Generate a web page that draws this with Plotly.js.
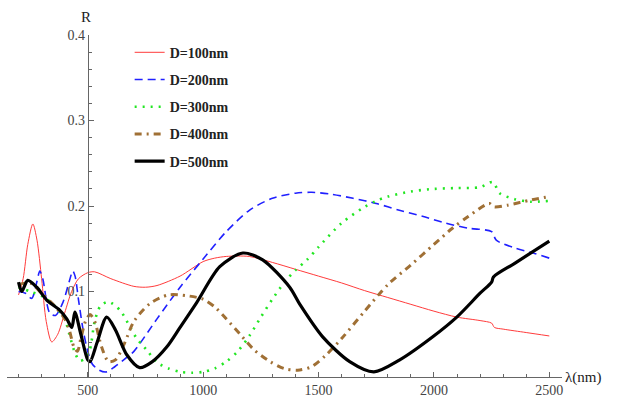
<!DOCTYPE html>
<html><head><meta charset="utf-8">
<script src="https://cdn.plot.ly/plotly-3.0.1.min.js"></script>
<style>html,body{margin:0;padding:0;background:#fff}#chart{width:617px;height:403px}</style>
</head><body><div id="chart"></div>
<script>
// D=100nm
const lam100 = [200,220,240,262,280,300,320,344,370,400,430,460,500,530,600,700,750,800,900,1000,1050,1100,1200,1300,1400,1500,1600,1700,1800,1900,2000,2100,2200,2250,2262,2300,2400,2500];
const r100   = [0.096,0.115,0.155,0.179,0.160,0.115,0.065,0.041,0.050,0.075,0.100,0.115,0.122,0.123,0.115,0.106,0.105,0.107,0.118,0.135,0.139,0.141,0.141,0.134,0.126,0.118,0.110,0.101,0.093,0.085,0.077,0.070,0.066,0.063,0.058,0.056,0.052,0.048];
// D=200nm
const lam200 = [200,230,257,280,292,305,335,360,392,420,435,445,460,480,500,520,550,580,617,669,700,800,900,1000,1100,1200,1300,1400,1470,1550,1650,1750,1850,1950,2050,2150,2250,2270,2350,2430,2500];
const r200   = [0.100,0.098,0.092,0.112,0.124,0.115,0.075,0.072,0.087,0.112,0.124,0.118,0.090,0.055,0.030,0.015,0.008,0.006,0.012,0.023,0.030,0.068,0.105,0.138,0.170,0.195,0.209,0.215,0.216,0.214,0.209,0.203,0.195,0.188,0.180,0.174,0.170,0.160,0.151,0.145,0.139];
// D=300nm
const lam300 = [200,250,300,350,400,420,445,465,490,510,530,555,590,640,680,710,760,800,850,900,950,1000,1050,1100,1150,1200,1250,1300,1350,1400,1450,1500,1600,1700,1750,1800,1900,2000,2100,2200,2255,2285,2350,2420,2500];
const r300   = [0.105,0.100,0.095,0.085,0.068,0.050,0.028,0.019,0.022,0.033,0.065,0.083,0.088,0.078,0.060,0.046,0.030,0.017,0.010,0.006,0.005,0.006,0.010,0.018,0.030,0.048,0.070,0.091,0.110,0.125,0.137,0.152,0.180,0.199,0.206,0.211,0.217,0.220,0.221,0.222,0.228,0.215,0.208,0.205,0.206];
// D=400nm
const lam400 = [200,250,300,350,400,420,440,455,470,490,510,530,560,590,620,660,700,770,850,930,1000,1050,1100,1160,1220,1290,1350,1410,1470,1530,1600,1700,1800,1900,2000,2080,2150,2240,2260,2320,2420,2500];
const r400   = [0.108,0.110,0.098,0.085,0.068,0.055,0.035,0.030,0.045,0.065,0.073,0.065,0.035,0.018,0.020,0.040,0.065,0.086,0.096,0.095,0.091,0.082,0.068,0.050,0.032,0.018,0.010,0.008,0.012,0.025,0.045,0.077,0.108,0.131,0.155,0.174,0.188,0.203,0.199,0.201,0.207,0.211];
// D=500nm
const lam500 = [200,214,240,279,322,379,409,431,444,470,500,510,540,582,620,669,725,780,842,900,972,1072,1172,1258,1375,1419,1518,1635,1740,1852,1995,2099,2200,2250,2258,2350,2500];
const r500   = [0.111,0.100,0.113,0.105,0.090,0.078,0.068,0.058,0.076,0.050,0.020,0.018,0.040,0.070,0.055,0.026,0.011,0.018,0.035,0.058,0.087,0.129,0.145,0.137,0.105,0.085,0.047,0.018,0.006,0.020,0.047,0.070,0.098,0.111,0.117,0.133,0.159];
const names = ["D=100nm","D=200nm","D=300nm","D=400nm","D=500nm"];
const xTicks = [500,1000,1500,2000,2500];
const yTicks = [0.1,0.2,0.3,0.4];

const serif = "Liberation Serif, Times New Roman, serif";
const styles = [
  {color:"#ff3b3b", width:1, dash:"solid"},
  {color:"#2020ff", width:1.6, dash:"8px,5px"},
  {color:"#22e622", width:2.6, dash:"2px,6px"},
  {color:"#a07035", width:3, dash:"7px,5px,2px,5px"},
  {color:"#000000", width:3.2, dash:"solid"}
];
const xs = [lam100,lam200,lam300,lam400,lam500];
const ys = [r100,r200,r300,r400,r500];
const traces = xs.map((x,i)=>({
  x:x, y:ys[i], name:names[i], type:"scatter", mode:"lines",
  legendgroup:"g"+i,
  line:Object.assign({shape:"spline", smoothing:0.8}, styles[i])
}));
const axisCol = "#666";
const layout = {
  width:617, height:403,
  margin:{l:7, r:55, t:35, b:26},
  paper_bgcolor:"#fff", plot_bgcolor:"#fff",
  showlegend:true,
  legend:{x:0.221, y:0.995, xanchor:"left", yanchor:"top", bgcolor:"rgba(0,0,0,0)",
          tracegroupgap:6, font:{family:serif, size:14, color:"#222", weight:"bold"}},
  xaxis:{range:[150,2555], showgrid:false, zeroline:false, showline:true, linecolor:axisCol, linewidth:1,
         tickmode:"array", tickvals:xTicks, ticks:"inside", ticklen:5, tickcolor:axisCol,
         tickfont:{family:serif, size:14, color:"#444"},
         minor:{tickmode:"linear", tick0:0, dtick:100, ticks:"inside", ticklen:3, tickcolor:axisCol}},
  yaxis:{range:[0,0.4], anchor:"free", position:(500-150)/(2555-150), showgrid:false, zeroline:false,
         showline:true, linecolor:axisCol, linewidth:1,
         tickmode:"array", tickvals:yTicks, ticktext:["0.1","0.2","0.3","0.4"], ticks:"inside", ticklen:5, tickcolor:axisCol,
         tickfont:{family:serif, size:14, color:"#444"},
         minor:{tickmode:"linear", tick0:0, dtick:0.02, ticks:"inside", ticklen:3, tickcolor:axisCol}},
  annotations:[
    {text:"R", xref:"paper", yref:"paper", x:(500-150)/(2555-150), y:1, xanchor:"center", yanchor:"bottom", yshift:8, xshift:-2,
     showarrow:false, font:{family:serif, size:15, color:"#222"}},
    {text:"λ(nm)", xref:"paper", yref:"paper", x:1, y:0, xanchor:"left", yanchor:"middle", xshift:1,
     showarrow:false, font:{family:serif, size:15, color:"#222"}}
  ]
};
Plotly.newPlot("chart", traces, layout, {staticPlot:true, displayModeBar:false});
</script></body></html>
